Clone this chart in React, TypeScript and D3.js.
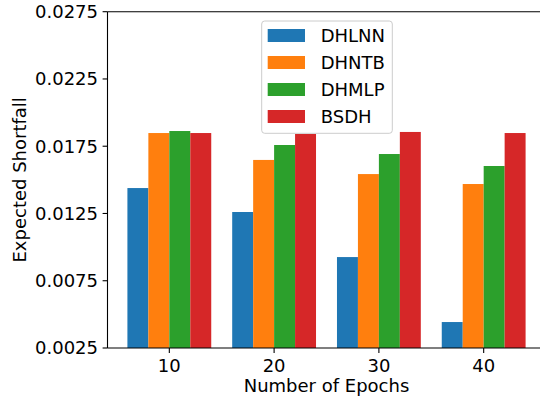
import React from "react";
import * as d3 from "d3";

const epochs = ["10", "20", "30", "40"];
const methods = ["DHLNN", "DHNTB", "DHMLP", "BSDH"];
const dhlnn = [0.01439, 0.01261, 0.00926, 0.00443];
const dhntb = [0.01848, 0.01648, 0.01543, 0.01469];
const dhmlp = [0.01863, 0.01759, 0.01692, 0.01603];
const bsdh = [0.01848, 0.01841, 0.01856, 0.01848];
const yTicks = [0.0025, 0.0075, 0.0125, 0.0175, 0.0225, 0.0275];
const colors = ["#1f77b4", "#ff7f0e", "#2ca02c", "#d62728"];

const seriesValues = [dhlnn, dhntb, dhmlp, bsdh];

const size = { width: 540, height: 398 };
const plot = { left: 107.5, right: 545.5, top: 11.7, bottom: 348 };

// text styling
const font = {
  fontFamily: "DejaVu Sans, sans-serif",
  fontSize: "18px",
  fill: "#000"
};

function App() {
  const barWidth = 0.2;

  const x = d3
    .scaleLinear()
    .domain([-0.59, epochs.length - 1 + 0.59])
    .range([plot.left, plot.right]);

  const y = d3
    .scaleLinear()
    .domain([0.0025, 0.0275])
    .range([plot.bottom, plot.top]);

  const bars = seriesValues.map((vals, s) =>
    vals.map((v, i) => {
      const x0 = x(i - 0.4 + s * barWidth);
      const x1 = x(i - 0.4 + (s + 1) * barWidth);
      return (
        <rect
          key={`bar${s}-${i}`}
          x={x0}
          y={y(v)}
          width={x1 - x0}
          height={y(0.0025) - y(v)}
          fill={colors[s]}
        />
      );
    })
  );

  const yAxis = yTicks.map((t) => (
    <g key={`yt${t}`}>
      <line x1={plot.left - 4.9} x2={plot.left} y1={y(t)} y2={y(t)} stroke="#000" strokeWidth={1.1} />
      <text x={plot.left - 9.5} y={y(t)} dy="0.35em" style={{ ...font, textAnchor: "end" }}>
        {t.toFixed(4)}
      </text>
    </g>
  ));

  const xAxis = epochs.map((e, i) => (
    <g key={`xt${e}`}>
      <line x1={x(i)} x2={x(i)} y1={plot.bottom} y2={plot.bottom + 4.9} stroke="#000" strokeWidth={1.1} />
      <text x={x(i)} y={371.5} style={{ ...font, textAnchor: "middle" }}>
        {e}
      </text>
    </g>
  ));

  const legend = { x: 261.7, y: 21, w: 130.6, h: 112.3 };
  const legendItems = methods.map((m, s) => {
    const cy = legend.y + 14.5 + s * 27;
    return (
      <g key={`lg${m}`}>
        <rect x={267.7} y={cy - 6.5} width={37.3} height={13} fill={colors[s]} />
        <text x={320.7} y={cy} dy="0.36em" style={font}>
          {m}
        </text>
      </g>
    );
  });

  return (
    <svg
      width={size.width}
      height={size.height}
      style={{ position: "absolute", left: 0, top: 0, background: "#fff" }}
    >
      {bars}
      <line x1={plot.left} x2={plot.right} y1={plot.top} y2={plot.top} stroke="#000" strokeWidth={1.1} />
      <line x1={plot.left} x2={plot.right} y1={plot.bottom} y2={plot.bottom} stroke="#000" strokeWidth={1.1} />
      <line x1={plot.left} x2={plot.left} y1={plot.top} y2={plot.bottom} stroke="#000" strokeWidth={1.1} />
      {yAxis}
      {xAxis}
      <text x={326.5} y={392} style={{ ...font, textAnchor: "middle" }}>
        Number of Epochs
      </text>
      <text
        transform={`translate(26,${(plot.top + plot.bottom) / 2}) rotate(-90)`}
        style={{ ...font, textAnchor: "middle" }}
      >
        Expected Shortfall
      </text>
      <rect
        x={legend.x}
        y={legend.y}
        width={legend.w}
        height={legend.h}
        rx={3}
        fill="#fff"
        fillOpacity={0.8}
        stroke="#ccc"
        strokeWidth={1}
      />
      {legendItems}
    </svg>
  );
}

export default App;
